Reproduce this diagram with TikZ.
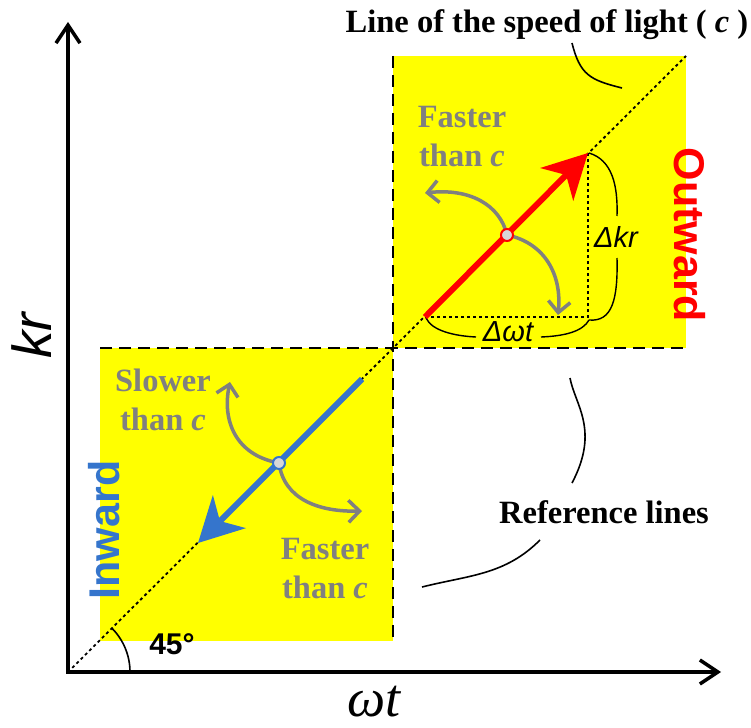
\documentclass[tikz,border=0pt]{standalone}
\usepackage{fontspec}
\setmainfont{Liberation Serif}
\newfontfamily\arialf{Liberation Sans}
\newfontfamily\timesf{Liberation Serif}
\usetikzlibrary{arrows.meta}
\definecolor{yel}{RGB}{255,255,0}
\definecolor{gry}{RGB}{128,128,128}
\definecolor{blu}{RGB}{53,117,204}
\definecolor{ringfill}{RGB}{215,215,215}
\tikzset{
  axisline/.style={line width=3.5pt,-{Straight Barb[length=18pt,width=24pt,line width=3.5pt]}},
  refline/.style={line width=2.2pt,dash pattern=on 12pt off 7pt},
  dotline/.style={line width=1.8pt,dash pattern=on 3pt off 3pt},
  grayarrow/.style={gry,line width=3.5pt,-{Straight Barb[length=11pt,width=22pt,line width=3.5pt]}},
  leader/.style={line width=1.6pt},
  bracket/.style={line width=1.4pt},
  serifbold/.style={font=\fontsize{32.5}{39}\selectfont\bfseries,align=center},
  ringnode/.style={circle,fill=ringfill,line width=2pt,inner sep=0pt,minimum size=12pt},
}
\begin{document}
\begin{tikzpicture}[x=1pt,y=-1pt]
\useasboundingbox (0,0) rectangle (751,727);
% coordinates
\coordinate (O) at (68,672);
\coordinate (C) at (393,348);
\coordinate (D) at (686,56);
\coordinate (ys) at (68,22);
\coordinate (xs) at (721,672);
% yellow squares
\fill[yel] (393,56) rectangle (686,348);
\fill[yel] (100,348) rectangle (393,641);
% reference lines
\draw[refline] (393,56) -- (C) -- (686,348);
\draw[refline] (100,348) -- (C) -- (393,641);
% diagonal
\draw[dotline] (O) -- (D);
% axes
\draw[axisline] (O) -- (ys);
\draw[axisline] ([xshift=-1.75pt]O) -- (xs);
% angle arc
\draw[line width=1.6pt] (130,672) arc[start angle=0,end angle=-45,radius=62];
\node[font=\arialf\bfseries\fontsize{30}{30}\selectfont] (ang) at (172,644) {45°};
% axis labels
\node[font=\arialf\itshape\fontsize{55}{55}\selectfont,rotate=90] (kr) at (32,336) {kr};
\node[font=\timesf\itshape\fontsize{54}{54}\selectfont,anchor=base,inner sep=0pt] (wt) at (374,716) {ωt};
% triangle
\coordinate (rs) at (425,317);
\coordinate (rt) at (588,153);
\coordinate (rc) at (588,317);
\draw[dotline] (rs) -- (rc) -- (rt);
% brackets
\node[font=\arialf\itshape\fontsize{29}{29}\selectfont] (dkr) at (616,237) {Δkr};
\node[font=\arialf\itshape\fontsize{29}{29}\selectfont] (dwt) at (508,332) {Δωt};
\draw[bracket] (589,153) .. controls (612,160) and (618,185) .. (617,216);
\draw[bracket] (617,258) .. controls (618,300) and (612,322) .. (589,320);
\draw[bracket] (426,318) .. controls (432,331) and (455,336) .. (476,337);
\draw[bracket] (541,337) .. controls (566,336) and (583,331) .. (589,320);
% red arrow
\draw[red,line width=6pt,-{Stealth[length=44pt,width=46pt,inset=13pt]}] (rs) -- (rt);
% blue arrow
\coordinate (bs) at (362,379);
\coordinate (bt) at (198,543);
\draw[blu,line width=6pt,-{Stealth[length=44pt,width=46pt,inset=13pt]}] (bs) -- (bt);
% gray arrows upper
\coordinate (ru) at (507,235);
\draw[grayarrow] (ru) .. controls (500,205) and (470,188) .. (425,193);
\draw[grayarrow] (ru) .. controls (545,243) and (562,275) .. (558,315);
\node[ringnode,draw=red] (ringu) at (ru) {};
% gray arrows lower
\coordinate (rl) at (279,463);
\draw[grayarrow] (rl) .. controls (235,455) and (222,420) .. (230,382);
\draw[grayarrow] (rl) .. controls (284,500) and (320,512) .. (362,511);
\node[ringnode,draw=blu] (ringl) at (rl) {};
% gray labels
\node[serifbold,text=gry] (fu) at (462,137) {Faster\\than \textit{c}};
\node[serifbold,text=gry] (sl) at (163,400) {Slower\\than \textit{c}};
\node[serifbold,text=gry] (fl) at (325,569) {Faster\\than \textit{c}};
% Outward / Inward
\node[font=\arialf\bfseries\fontsize{43}{43}\selectfont,text=red,rotate=-90] (out) at (690,235) {Outward};
\node[font=\arialf\bfseries\fontsize{43}{43}\selectfont,text=blu,rotate=90] (inw) at (104,530) {Inward};
% title & leader
\node[serifbold,anchor=base] (title) at (547,33) {Line of the speed of light ( \textit{c} )};
\draw[leader] (572,43) .. controls (580,75) and (590,80) .. (622,88);
% reference lines label & leaders
\node[serifbold,anchor=base] (ref) at (604,523) {Reference lines};
\draw[leader] (570,378) .. controls (575,405) and (600,430) .. (572,483);
\draw[leader] (540,540) .. controls (505,575) and (470,575) .. (422,587);
\end{tikzpicture}
\end{document}
